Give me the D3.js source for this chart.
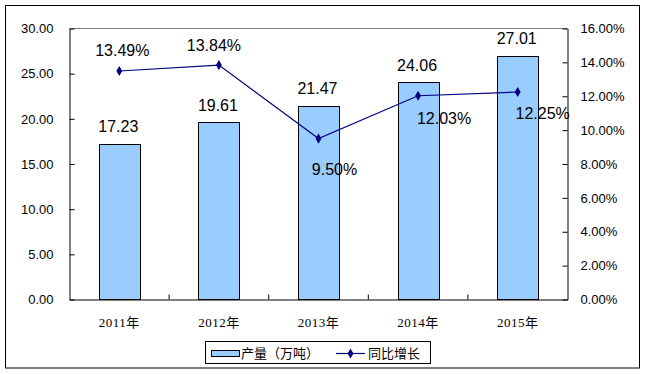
<!DOCTYPE html>
<html><head><meta charset="utf-8">
<script src="https://cdn.jsdelivr.net/npm/d3@7"></script>
<style>body{margin:0;background:#fff}svg{display:block}</style>
</head><body>
<svg id="c" width="647" height="374"></svg>
<script>
const categories = ["2011年","2012年","2013年","2014年","2015年"];
const output = [17.23, 19.61, 21.47, 24.06, 27.01];
const growth = [13.49, 13.84, 9.50, 12.03, 12.25];
const leftTicks = [0,5,10,15,20,25,30];
const rightTicks = [0,2,4,6,8,10,12,14,16];
const seriesNames = ["产量（万吨）","同比增长"];
// label placement offsets for growth labels (dx, dy of baseline from point)
const growthLabelOffset = [[3,-15],[-5,-14],[16,36],[26,28],[25,27]];

const svg = d3.select("#c");
const L=69.5, R=567.5, T=28.5, B=299.5;
svg.append("rect").attr("x",5.5).attr("y",5.5).attr("width",634).attr("height",362.5)
  .attr("fill","#fff").attr("stroke","#000");

const x = d3.scaleBand().domain(categories).range([L,R]).paddingInner(0).paddingOuter(0);
const yL = d3.scaleLinear().domain([0,30]).range([B,T]);
const yR = d3.scaleLinear().domain([0,16]).range([B,T]);

// top gray line
svg.append("line").attr("x1",L).attr("x2",R).attr("y1",T).attr("y2",T).attr("stroke","#808080");

const numFont = "Liberation Sans, Arial, sans-serif";

// left axis
const ga = svg.append("g").attr("transform",`translate(${L},0)`)
  .call(d3.axisLeft(yL).tickValues(leftTicks).tickFormat(d3.format(".2f")).tickSizeInner(-5).tickSizeOuter(0).tickPadding(16));
ga.select(".domain").attr("stroke","#000");
ga.selectAll("text").attr("font-family",numFont).attr("font-size",13).attr("fill","#000");

// right axis
const gr = svg.append("g").attr("transform",`translate(${R},0)`)
  .call(d3.axisRight(yR).tickValues(rightTicks).tickFormat(d=>d3.format(".2f")(d)+"%").tickSizeInner(-5).tickSizeOuter(0).tickPadding(13));
gr.select(".domain").attr("stroke","#000");
gr.selectAll("text").attr("font-family",numFont).attr("font-size",13).attr("fill","#000");

// bars
const bw = 41;
svg.append("g").selectAll("rect").data(output).join("rect")
  .attr("x",(d,i)=>Math.round(x(categories[i])+x.bandwidth()/2-bw/2)+0.5)
  .attr("y",d=>Math.round(yL(d))+0.5)
  .attr("width",bw)
  .attr("height",d=>B-Math.round(yL(d))-0.5)
  .attr("fill","#99CCFF").attr("stroke","#000");

// bottom axis
const gb = svg.append("g").attr("transform",`translate(0,${B})`)
  .call(d3.axisBottom(x).tickSize(0).tickPadding(18));
gb.select(".domain").attr("stroke","#000");
gb.selectAll("text").attr("font-family","Liberation Serif, 'Noto Sans CJK SC', serif").attr("font-size",13)
  .attr("letter-spacing","0.5px").attr("fill","#000");
// inner category separators
svg.append("g").selectAll("line").data(categories.slice(1)).join("line")
  .attr("x1",d=>x(d)).attr("x2",d=>x(d)).attr("y1",B).attr("y2",B-5).attr("stroke","#000");

// bar labels
svg.append("g").selectAll("text").data(output).join("text")
  .attr("x",(d,i)=>x(categories[i])+x.bandwidth()/2-1)
  .attr("y",d=>yL(d)-11.5)
  .attr("text-anchor","middle").attr("font-family",numFont).attr("font-size",16).attr("fill","#000")
  .text(d=>d3.format(".2f")(d));

// line
const px = (i)=>x(categories[i])+x.bandwidth()/2;
const line = d3.line().x((d,i)=>px(i)).y(d=>yR(d));
svg.append("path").datum(growth).attr("d",line).attr("fill","none").attr("stroke","#000080").attr("stroke-width",1.2);
const dia = d3.symbol().type(d3.symbolDiamond).size(30);
svg.append("g").selectAll("path").data(growth).join("path")
  .attr("transform",(d,i)=>`translate(${px(i)},${yR(d)})`).attr("d",dia).attr("fill","#000080");

svg.append("g").selectAll("text").data(growth).join("text")
  .attr("x",(d,i)=>px(i)+growthLabelOffset[i][0])
  .attr("y",(d,i)=>yR(d)+growthLabelOffset[i][1])
  .attr("text-anchor","middle").attr("font-family",numFont).attr("font-size",16).attr("fill","#000")
  .text(d=>d3.format(".2f")(d)+"%");

// legend
const lg = svg.append("g");
lg.append("rect").attr("x",205.5).attr("y",341.5).attr("width",225).attr("height",22).attr("fill","#fff").attr("stroke","#000");
lg.append("rect").attr("x",211.5).attr("y",350.5).attr("width",28).attr("height",6).attr("fill","#99CCFF").attr("stroke","#000");
lg.append("text").attr("x",241).attr("y",358).attr("font-family","'Noto Sans CJK SC', sans-serif").attr("font-size",13).attr("fill","#000").text(seriesNames[0]);
lg.append("line").attr("x1",336).attr("x2",365).attr("y1",353.5).attr("y2",353.5).attr("stroke","#000080").attr("stroke-width",1.2);
lg.append("path").attr("transform","translate(350.5,353.5)").attr("d",dia).attr("fill","#000080");
lg.append("text").attr("x",368).attr("y",358).attr("font-family","'Noto Sans CJK SC', sans-serif").attr("font-size",13).attr("fill","#000").text(seriesNames[1]);
</script>
</body></html>
